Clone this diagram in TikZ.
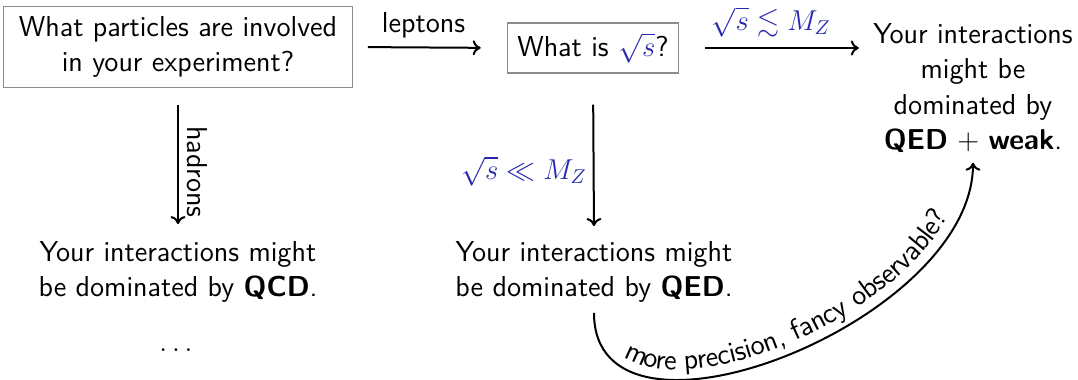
\documentclass[tikz,border=0pt]{standalone}
\usepackage{amssymb}
\usetikzlibrary{decorations.text,arrows.meta}
\definecolor{mblue}{RGB}{40,40,175}
\newcommand{\bl}[1]{\textcolor{mblue}{#1}}
\begin{document}
\begin{tikzpicture}[x=0.5pt,y=-0.5pt,
  every node/.style={font=\sffamily\fontsize{14.4}{17.6}\selectfont, align=center, inner sep=5pt},
  qbox/.style={draw=black!45, line width=0.6pt},
  arr/.style={-{To[length=4pt,width=7.5pt]}, line width=1pt},
  lbl/.style={inner sep=2pt}]
\useasboundingbox (0,0) rectangle (1078,380);
\node[qbox, inner xsep=7.5pt] (q1) at (178,47) {What particles are involved\\in your experiment?};
\node[qbox] (b2) at (593,48) {What is $\bl{\sqrt{s}}$?};
\node (wk) at (973,88) {Your interactions\\might be\\dominated by\\\textbf{QED} + \textbf{weak}.};
\node (qcd) at (178,272) {Your interactions might\\be dominated by \textbf{QCD}.};
\node (qed) at (594,272) {Your interactions might\\be dominated by \textbf{QED}.};
\node (dots) at (176,350) {$\ldots$};

\draw[arr, shorten <=7.5pt, shorten >=13pt] (q1.east) -- (b2.west)
  node[lbl, pos=0.46, above=2pt] {leptons};
\draw[arr, shorten <=13pt, shorten >=2pt] (b2.east) -- (b2.east -| wk.west)
  node[midway, above=4pt, inner sep=1pt] {$\bl{\sqrt{s}\lesssim M_Z}$};
\draw[arr, shorten <=8.5pt, shorten >=3.5pt] (q1.south) -- (qcd.north)
  node[lbl, pos=0.585, sloped, above=2pt] {hadrons};
\draw[arr, shorten <=15.5pt, shorten >=2.5pt] (b2.south) -- (qed.north)
  node[lbl, pos=0.62, left=1pt] {$\bl{\sqrt{s}\ll M_Z}$};
\draw[arr, postaction={decorate, decoration={text along path, text align=center, raise=5pt,
    text={|\sffamily\fontsize{14.4}{17.6}\selectfont|more precision, fancy observable?}}}]
  (qed.south) .. controls +(0,157) and +(0,160) .. (wk.south);
\end{tikzpicture}
\end{document}
